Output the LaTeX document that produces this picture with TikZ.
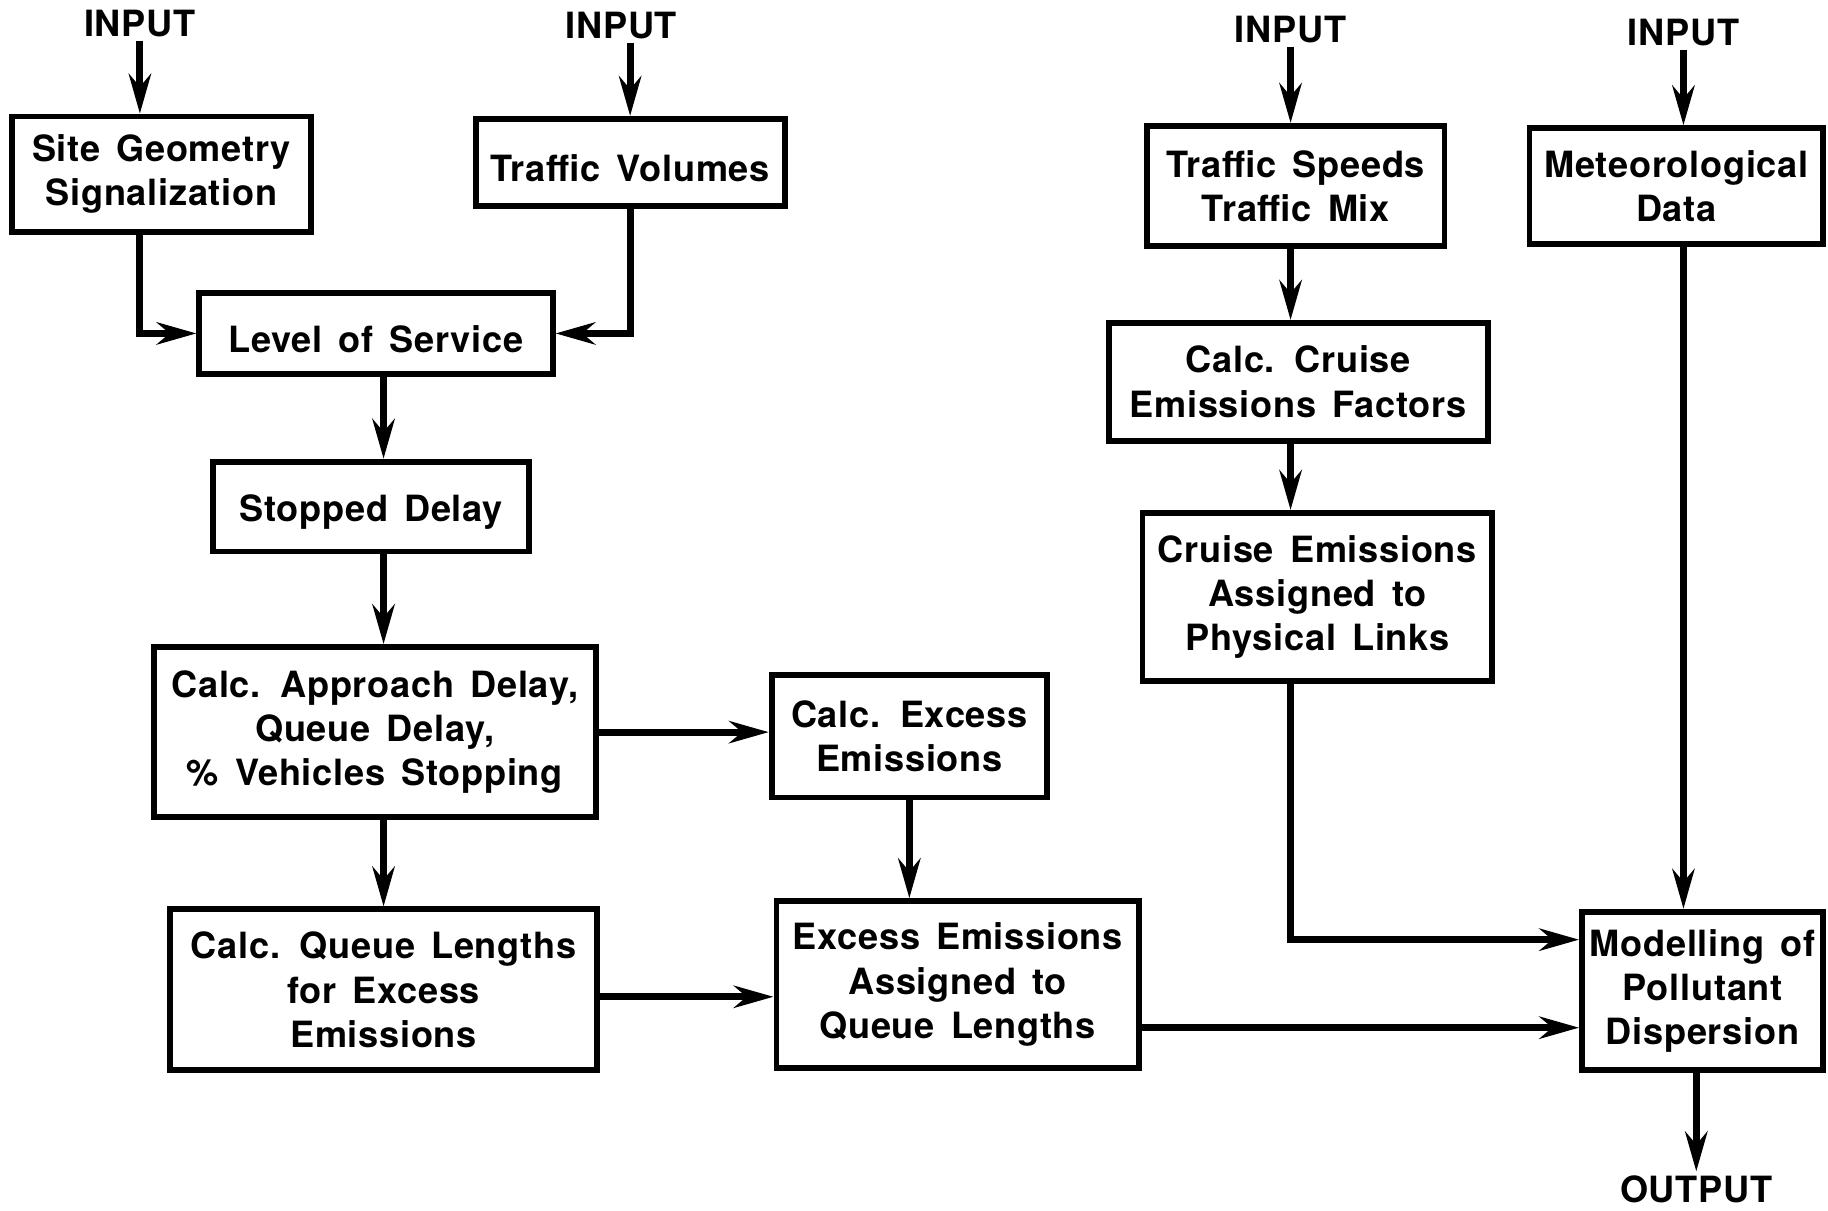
\documentclass[tikz,border=0pt]{standalone}
\usepackage{fontspec}
\setmainfont{TeX Gyre Heros}[LetterSpace=2,WordSpace=1.5]
\usetikzlibrary{arrows.meta,calc}

\begin{document}
\begin{tikzpicture}[x=1pt,y=-1pt,
    font=\fontsize{31}{38}\selectfont\bfseries,
    box/.style={draw,line width=5pt,align=center,inner sep=0pt,
      execute at begin node={\rule{0pt}{33pt}}},
    flow/.style={line width=6pt,-{Stealth[length=34pt,width=19pt,inset=11pt]}}]
      \useasboundingbox (0,0) rectangle (1568,1038);

      % inputs and output
      \node (in1) at (120,20) {INPUT};
      \node (in2) at (533,22) {INPUT};
      \node (in3) at (1107,25) {INPUT};
      \node (in4) at (1444,28) {INPUT};
      \node (out) at (1455,1020) {OUTPUT};

      % left branch
      \node [box,minimum width=257,minimum height=99] (site) at (138.5,149.5) {Site Geometry\\ Signalization};
      \node [box,minimum width=265,minimum height=75] (vol) at (540.5,139.5) {Traffic Volumes};
      \node [box,minimum width=303,minimum height=70] (los) at (322.5,286) {Level of Service};
      \node [box,minimum width=271,minimum height=77] (stop) at (318.5,434.5) {Stopped Delay};
      \node [box,minimum width=379,minimum height=146] (appr) at (321.5,628) {Calc. Approach Delay,\\ Queue Delay,\\ \% Vehicles Stopping};
      \node [box,minimum width=366,minimum height=138] (qlen) at (329,849) {Calc. Queue Lengths\\ for Excess\\ Emissions};
      \node [box,minimum width=236,minimum height=105] (exc) at (780,631.5) {Calc. Excess\\ Emissions};
      \node [box,minimum width=311,minimum height=143] (exa) at (821.5,844.5) {Excess Emissions\\ Assigned to\\ Queue Lengths};

      % right branch
      \node [box,minimum width=255,minimum height=103] (spd) at (1111.5,159.5) {Traffic Speeds\\ Traffic Mix};
      \node [box,minimum width=325,minimum height=101] (cef) at (1113.5,327.5) {Calc. Cruise\\ Emissions Factors};
      \node [box,minimum width=300,minimum height=144] (cea) at (1130,512) {Cruise Emissions\\ Assigned to\\ Physical Links};
      \node [box,minimum width=252,minimum height=99] (met) at (1438,159.5) {Meteorological\\ Data};
      \node [box,minimum width=207,minimum height=136] (mod) at (1460.5,850) {Modelling of\\ Pollutant\\ Dispersion};

      \draw[flow] (in1.south) -- (in1 |- site.north);
      \draw[flow] (in2.south -| vol) -- (vol.north);
      \draw[flow] (in1 |- site.south) |- (los.west);
      \draw[flow] (vol.south) |- (los.east);
      \draw[flow] (los.south -| qlen) -- (stop.north -| qlen);
      \draw[flow] (stop.south -| qlen) -- (appr.north -| qlen);
      \draw[flow] (appr.south -| qlen) -- (qlen.north);
      \draw[flow] (appr.east) -- (appr.east -| exc.west);
      \draw[flow] (exc.south) -- (exc.south |- exa.north);
      \draw[flow] ($(qlen.east)+(0,6)$) -- ($(qlen.east -| exa.west)+(0,6)$);
      \draw[flow] ($(exa.east)+(0,37)$) -- ($(exa.east -| mod.west)+(0,37)$);

      \draw[flow] (in3.south) -- (in3 |- spd.north);
      \draw[flow] (in3 |- spd.south) -- (in3 |- cef.north);
      \draw[flow] (in3 |- cef.south) -- (in3 |- cea.north);
      \draw[flow] (in3 |- cea.south) |- ($(mod.west)+(0,-44)$);
      \draw[flow] (in4.south) -- (in4 |- met.north);
      \draw[flow] (in4 |- met.south) -- (in4 |- mod.north);
      \draw[flow] (mod.south -| out) -- (out.north);
    \end{tikzpicture}
\end{document}
